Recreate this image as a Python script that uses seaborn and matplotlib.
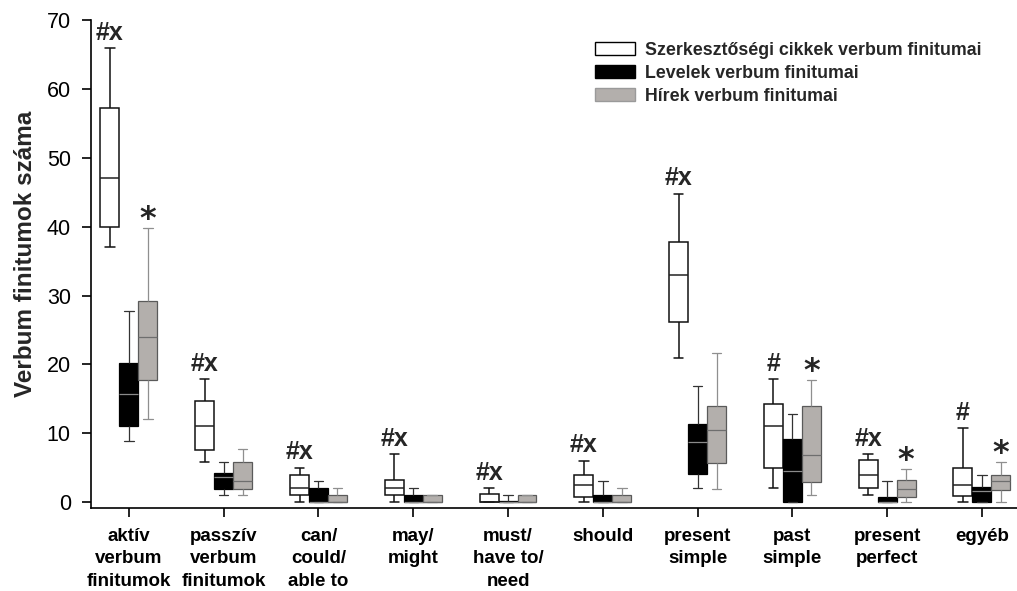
import numpy as np
import pandas as pd
import matplotlib
matplotlib.use("Agg")
import matplotlib.pyplot as plt
import seaborn as sns
from matplotlib.patches import Patch

categories = [
    "aktív\nverbum\nfinitumok", "passzív\nverbum\nfinitumok", "can/\ncould/\nable to",
    "may/\nmight", "must/\nhave to/\nneed", "should", "present\nsimple",
    "past\nsimple", "present\nperfect", "egyéb",
]
series = [
    "Szerkesztőségi cikkek verbum finitumai",
    "Levelek verbum finitumai",
    "Hírek verbum finitumai",
]

# five-number summaries per category: whisker low, Q1, median, Q3, whisker high
editorial_low = [37, 5.9, 0, 0, 0, 0, 21, 2, 1, 0]
editorial_q1 = [40, 7.6, 1, 1, 0, 0.7, 26.2, 4.9, 2, 0.9]
editorial_med = [47, 11, 2, 2, 0, 2.5, 33, 11, 4, 2.5]
editorial_q3 = [57.2, 14.7, 4, 3.2, 1.2, 4, 37.8, 14.2, 6.1, 5]
editorial_high = [65.9, 17.9, 5, 7, 2, 6, 44.8, 17.9, 7, 10.7]

letters_low = [8.9, 1, 0, 0, 0, 0, 2, 0, 0, 0]
letters_q1 = [11, 1.9, 0, 0, 0, 0, 4.1, 0, 0, 0]
letters_med = [15.7, 3.7, 0, 0, 0, 0, 8.8, 4.5, 0, 1.6]
letters_q3 = [20.2, 4.2, 2, 1, 0.2, 1, 11.4, 9.1, 0.8, 2.2]
letters_high = [27.7, 5.8, 3, 2, 1, 3, 16.9, 12.8, 3, 3.9]

news_low = [12, 1, 0, 0, 0, 0, 1.9, 1.1, 0, 0]
news_q1 = [17.7, 1.9, 0, 0, 0, 0, 5.7, 2.9, 0.7, 1.7]
news_med = [24, 3, 0, 0, 0, 0, 10.5, 6.9, 1.9, 3]
news_q3 = [29.2, 5.9, 1, 1, 1, 1, 13.9, 13.9, 3.2, 3.9]
news_high = [39.8, 7.7, 2, 1, 1, 2, 21.7, 17.8, 4.8, 5.9]

# significance marks above the editorial and the news boxes
editorial_marks = ["#x", "#x", "#x", "#x", "#x", "#x", "#x", "#", "#x", "#"]
news_marks = ["*", "", "", "", "", "", "", "*", "*", "*"]

yticks = [0, 10, 20, 30, 40, 50, 60, 70]


def summary_frame(name, low, q1, med, q3, high):
    rows = []
    for cat, vals in zip(categories, zip(low, q1, med, q3, high)):
        for v in vals:
            rows.append((cat, name, v))
    return pd.DataFrame(rows, columns=["kategória", "csoport", "érték"])


frames = {
    series[0]: summary_frame(series[0], editorial_low, editorial_q1, editorial_med,
                             editorial_q3, editorial_high),
    series[1]: summary_frame(series[1], letters_low, letters_q1, letters_med,
                             letters_q3, letters_high),
    series[2]: summary_frame(series[2], news_low, news_q1, news_med,
                             news_q3, news_high),
}

palette = {series[0]: "#ffffff", series[1]: "#000000", series[2]: "#b3afac"}
styles = {
    series[0]: dict(line="#111111", edge="#111111", lw=1.1, median="#222222"),
    series[1]: dict(line="#333333", edge="#000000", lw=0.9, median="#8a8a8a"),
    series[2]: dict(line="#8f8f8f", edge="#5a5a5a", lw=0.9, median="#6e6e6e"),
}

sns.set_style("ticks")
plt.rcParams["font.family"] = ["Liberation Sans", "DejaVu Sans"]

fig = plt.figure(figsize=(10.17, 5.91), dpi=100)
ax = fig.add_axes([91 / 1017, 1 - 508 / 591, 1 - 91 / 1017, (508 - 20) / 591])

for name in series:
    st = styles[name]
    sns.boxplot(
        data=frames[name], x="kategória", y="érték", hue="csoport",
        order=categories, hue_order=series, palette=palette, saturation=1,
        dodge=True, width=0.6, gap=0, whis=(0, 100), showfliers=False,
        linecolor=st["line"], linewidth=st["lw"],
        boxprops=dict(edgecolor=st["edge"]),
        medianprops=dict(color=st["median"]),
        legend=False, ax=ax,
    )

ax.set_xlim(-0.4, 9.37)
ax.set_ylim(-0.85, 70)
ax.set_yticks(yticks)
ax.set_xlabel("")
ax.set_ylabel("Verbum finitumok száma", fontsize=17.5, fontweight="bold")
ax.yaxis.set_label_coords(-0.058, 0.52)

for sp in ["top", "right"]:
    ax.spines[sp].set_visible(False)
for sp in ["left", "bottom"]:
    ax.spines[sp].set_color("black")
    ax.spines[sp].set_linewidth(1.2)

ax.tick_params(axis="y", length=6.5, width=1.2, pad=8, labelsize=15.5, colors="black")
ax.tick_params(axis="x", length=6.5, width=1.2, pad=8, colors="black")
for lab in ax.get_xticklabels():
    lab.set_fontweight("bold")
    lab.set_fontsize(13.5)
    lab.set_linespacing(1.4)

# significance marks
for i, mark in enumerate(editorial_marks):
    if mark:
        ax.annotate(mark, (i - 0.2, editorial_high[i]), xytext=(0, 6),
                    textcoords="offset points", ha="center", va="baseline",
                    fontsize=18, fontweight="bold")
for i, mark in enumerate(news_marks):
    if mark:
        ax.annotate(mark, (i + 0.2, news_high[i]), xytext=(0, 0),
                    textcoords="offset points", ha="center", va="baseline",
                    fontsize=23, fontweight="bold", family="DejaVu Sans")

handles = [
    Patch(facecolor=palette[series[0]], edgecolor="black", linewidth=1.0),
    Patch(facecolor=palette[series[1]], edgecolor="black", linewidth=1.0),
    Patch(facecolor=palette[series[2]], edgecolor="#9a9a9a", linewidth=1.0),
]
fig.legend(handles, series, loc="upper left", bbox_to_anchor=(595 / 1017, 1 - 42 / 591),
           frameon=False, borderpad=0, borderaxespad=0, handlelength=2.25,
           handleheight=0.73, handletextpad=0.55, labelspacing=0.33,
           prop=dict(family="Liberation Sans", weight="bold", size=12.8))

fig.savefig("out.png", dpi=100, facecolor="white")
